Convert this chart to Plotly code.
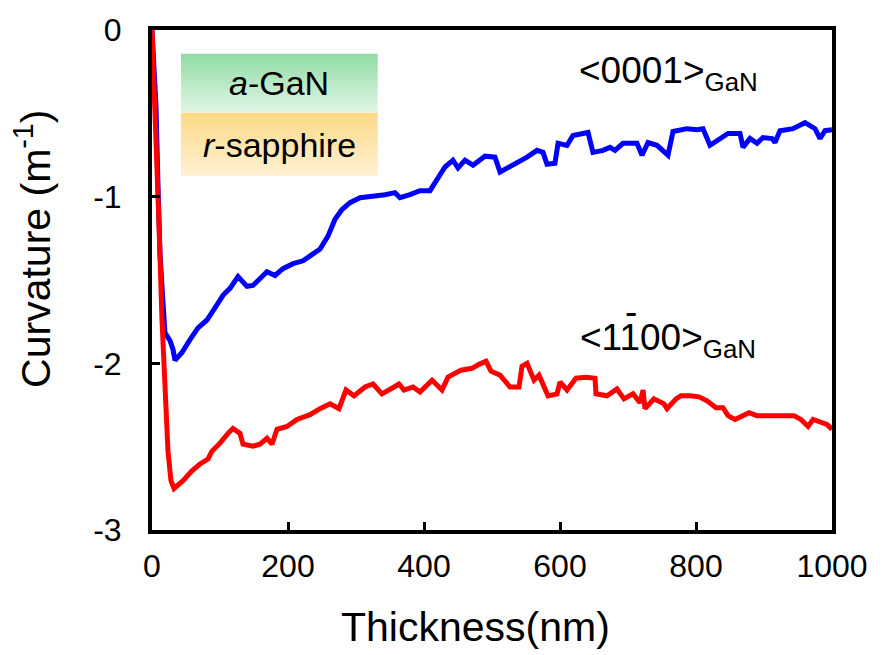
import plotly.graph_objects as go

# In-situ wafer curvature vs. GaN thickness, a-plane GaN on r-plane sapphire
thickness_0001 = [0, 5.9, 8.8, 11.8, 16.2, 19.1, 26.5, 30.9, 33.8, 44.1, 55.9, 67.6, 80.9, 88.2,
                  97.1, 104.4, 114.7, 126.5, 139.7, 148.5, 158.8, 169.1, 180.9, 192.6, 207.4,
                  222.1, 236.8, 247.1, 258.8, 269.1, 279.4, 291.2, 305.9, 323.5, 342.6, 357.4,
                  364.7, 379.4, 394.1, 408.8, 419.1, 430.9, 442.6, 450.0, 460.3, 472.1, 489.7,
                  504.4, 511.8, 526.5, 551.5, 566.2, 575.0, 580.9, 592.6, 597.1, 610.3, 619.1,
                  641.2, 648.5, 663.2, 673.5, 680.9, 692.6, 713.2, 720.6, 729.4, 742.6, 758.8,
                  766.2, 786.8, 801.5, 810.3, 820.6, 835.3, 847.1, 864.7, 869.1, 879.4, 889.7,
                  898.5, 911.8, 916.2, 923.5, 942.6, 960.3, 975.0, 982.4, 989.7, 1000]
curv_0001 = [0, -0.456, -0.929, -1.343, -1.639, -1.817, -1.864, -1.917, -1.982, -1.935, -1.858,
             -1.787, -1.740, -1.698, -1.639, -1.592, -1.550, -1.479, -1.538, -1.533, -1.491,
             -1.450, -1.473, -1.432, -1.402, -1.385, -1.343, -1.314, -1.237, -1.136, -1.077,
             -1.036, -1.006, -1.000, -0.988, -0.976, -1.006, -0.988, -0.964, -0.964, -0.899,
             -0.822, -0.781, -0.828, -0.781, -0.811, -0.757, -0.763, -0.852, -0.822, -0.763,
             -0.722, -0.734, -0.805, -0.799, -0.680, -0.692, -0.633, -0.615, -0.734, -0.722,
             -0.704, -0.722, -0.680, -0.680, -0.751, -0.675, -0.692, -0.751, -0.609, -0.592,
             -0.598, -0.592, -0.692, -0.651, -0.621, -0.621, -0.704, -0.651, -0.680, -0.645,
             -0.651, -0.675, -0.604, -0.592, -0.556, -0.592, -0.651, -0.604, -0.598]

thickness_1100 = [0, 5.9, 10.3, 14.7, 19.1, 23.5, 27.9, 32.4, 45.6, 58.8, 70.6, 82.4, 88.2, 100.0,
                  111.8, 119.1, 129.4, 133.8, 148.5, 158.8, 169.1, 176.5, 183.8, 198.5, 213.2,
                  232.4, 247.1, 261.8, 275.0, 285.3, 297.1, 313.2, 325.0, 338.2, 355.9, 363.2,
                  370.6, 383.8, 394.1, 411.8, 426.5, 435.3, 454.4, 470.6, 480.9, 491.2, 498.5,
                  511.8, 526.5, 539.7, 544.1, 551.5, 561.8, 569.1, 582.4, 595.6, 600.0, 610.3,
                  623.5, 638.2, 651.5, 652.9, 669.1, 683.8, 694.1, 707.4, 717.6, 722.1, 725.0,
                  738.2, 752.9, 757.4, 770.6, 777.9, 791.2, 804.4, 816.2, 829.4, 839.7, 847.1,
                  857.4, 867.6, 877.9, 889.7, 902.9, 917.6, 933.8, 944.1, 954.4, 964.7, 972.1,
                  979.4, 992.6, 1000]
curv_1100 = [0, -0.574, -1.166, -1.740, -2.130, -2.527, -2.704, -2.751, -2.704, -2.645, -2.604,
             -2.574, -2.527, -2.479, -2.420, -2.391, -2.420, -2.485, -2.497, -2.485, -2.450,
             -2.485, -2.396, -2.379, -2.337, -2.308, -2.272, -2.243, -2.272, -2.160, -2.195,
             -2.142, -2.124, -2.183, -2.142, -2.124, -2.160, -2.142, -2.172, -2.101, -2.160,
             -2.083, -2.041, -2.030, -2.006, -1.988, -2.047, -2.071, -2.142, -2.142, -2.018,
             -2.000, -2.101, -2.071, -2.195, -2.183, -2.112, -2.160, -2.089, -2.083, -2.089,
             -2.183, -2.195, -2.154, -2.213, -2.183, -2.237, -2.160, -2.272, -2.213, -2.243,
             -2.272, -2.213, -2.195, -2.195, -2.201, -2.225, -2.266, -2.266, -2.314, -2.337,
             -2.314, -2.296, -2.314, -2.314, -2.314, -2.308, -2.314, -2.337, -2.379, -2.337,
             -2.349, -2.367, -2.396]

x_ticks = [0, 200, 400, 600, 800, 1000]
x_ticktext = ["0", "200", "400", "600", "800", "1000"]
y_ticks = [0, -1, -2, -3]
y_ticktext = ["0", "-1", "-2", "-3"]

FONT = "Arial, Liberation Sans, sans-serif"

fig = go.Figure()

# layer stack inset: a-GaN over r-sapphire, each with a vertical gradient fill
def layer_box(x0, x1, y0, y1, top, bottom):
    fig.add_trace(go.Scatter(
        x=[x0, x1, x1, x0, x0], y=[y0, y0, y1, y1, y0],
        mode="none", fill="toself",
        fillgradient=dict(type="vertical", colorscale=[[0, bottom], [1, top]]),
        hoverinfo="skip", showlegend=False))

layer_box(42.6, 332, -0.497, -0.142, "rgb(143,220,163)", "rgb(226,246,231)")
layer_box(42.6, 332, -0.876, -0.497, "rgb(253,217,133)", "rgb(255,241,212)")

fig.add_trace(go.Scatter(x=thickness_0001, y=curv_0001, mode="lines",
                         line=dict(color="#0000FF", width=5), showlegend=False))
fig.add_trace(go.Scatter(x=thickness_1100, y=curv_1100, mode="lines",
                         line=dict(color="#FF0000", width=5), showlegend=False))

annotations = [
    dict(text="<i>a</i>-GaN", x=187, y=-0.32, xref="x", yref="y",
         font=dict(size=34, color="black", family=FONT), showarrow=False),
    dict(text="<i>r</i>-sapphire", x=187, y=-0.69, xref="x", yref="y",
         font=dict(size=34, color="black", family=FONT), showarrow=False),
    dict(text="<0001><sub>GaN</sub>", x=(577 - 152) / 680, y=(530 - 67) / 507,
         xref="paper", yref="paper", xanchor="left", yanchor="middle",
         font=dict(size=37, color="black", family=FONT), showarrow=False),
    dict(text="<1100><sub>GaN</sub>", x=(578 - 152) / 680, y=(530 - 337) / 507,
         xref="paper", yref="paper", xanchor="left", yanchor="middle",
         font=dict(size=37, color="black", family=FONT), showarrow=False),
    # bar over the second index digit (Miller-Bravais notation)
    dict(text="-", x=(631 - 152) / 680, y=(530 - 308) / 507,
         xref="paper", yref="paper", xanchor="center", yanchor="middle",
         font=dict(size=37, color="black", family=FONT), showarrow=False),
    dict(text="Thickness(nm)", x=(475 - 152) / 680, y=(530 - 628) / 507,
         xref="paper", yref="paper", xanchor="center", yanchor="middle",
         font=dict(size=41, color="black", family=FONT), showarrow=False),
    dict(text="Curvature (m<sup>-1</sup>)", x=(33 - 152) / 680, y=(530 - 245) / 507,
         xref="paper", yref="paper", xanchor="center", yanchor="middle", textangle=-90,
         font=dict(size=41, color="black", family=FONT), showarrow=False),
]

axis_common = dict(showline=True, linecolor="black", linewidth=4, mirror=True,
                   ticks="inside", ticklen=8, tickwidth=3, tickcolor="black",
                   showgrid=False, zeroline=False,
                   tickfont=dict(size=32, color="black", family=FONT))

fig.update_layout(
    width=882, height=655,
    margin=dict(l=152, r=50, t=23, b=125),
    paper_bgcolor="white", plot_bgcolor="white",
    xaxis=dict(range=[0, 1000], tickvals=x_ticks, ticktext=x_ticktext,
               ticklabelstandoff=5, **axis_common),
    yaxis=dict(range=[-3, 0], tickvals=y_ticks, ticktext=y_ticktext,
               ticklabelstandoff=20, **axis_common),
    annotations=annotations,
)

fig.write_html("out.html")
